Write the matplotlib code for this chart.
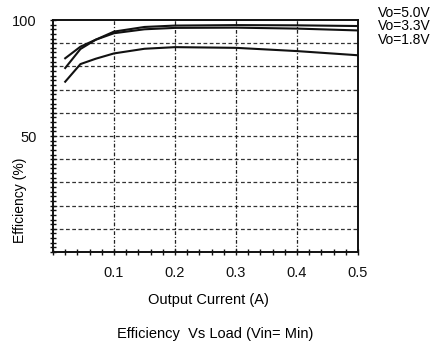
import matplotlib
matplotlib.use("Agg")
import matplotlib.pyplot as plt
from matplotlib.ticker import MultipleLocator

plt.rcParams['font.family'] = ['Liberation Sans', 'DejaVu Sans']

current = [0.02, 0.045, 0.07, 0.1, 0.15, 0.2, 0.3, 0.4, 0.5]
eff_5v0 = [79.3, 87.5, 91.5, 95.0, 97.0, 97.6, 97.8, 97.7, 97.4]
eff_3v3 = [83.5, 88.5, 91.5, 94.3, 96.0, 96.6, 96.7, 96.3, 95.5]
eff_1v8 = [73.4, 81.0, 83.3, 85.6, 87.6, 88.3, 88.0, 86.6, 84.8]
labels = ["Vo=5.0V", "Vo=3.3V", "Vo=1.8V"]
xticks = [0.1, 0.2, 0.3, 0.4, 0.5]
xticklabels = ["0.1", "0.2", "0.3", "0.4", "0.5"]
yticks = [50, 100]

fig = plt.figure(figsize=(4.42, 3.42), dpi=100)
ax = fig.add_axes([53/442, 1-252/342, (358-53)/442, (252-20)/342])
ax.set_xlim(0, 0.5)
ax.set_ylim(0, 100)

for y in range(10, 100, 10):
    ax.axhline(y, color='#333333', lw=0.9, ls=(0, (3, 2)), zorder=1)
for x in [0.1, 0.2, 0.3, 0.4]:
    ax.axvline(x, color='#222222', lw=0.9, ls=(0, (3, 1.5, 1, 1.5)), zorder=1)

for ys in [eff_5v0, eff_3v3, eff_1v8]:
    ax.plot(current, ys, color='#111111', lw=1.5, zorder=3)

ax.set_xticks(xticks)
ax.set_xticklabels(xticklabels, fontsize=10.5)
ax.set_yticks(yticks)
ax.set_yticklabels([str(v) for v in yticks], fontsize=10.5)
ax.xaxis.set_minor_locator(MultipleLocator(0.02))
ax.yaxis.set_minor_locator(MultipleLocator(2))
ax.tick_params(axis='both', which='both', direction='inout', length=4, width=1, colors='#111111')
ax.tick_params(axis='x', which='major', pad=8)
ax.tick_params(axis='y', which='major', pad=10)
ax.tick_params(top=False, right=False)
for s in ax.spines.values():
    s.set_linewidth(1.4)
    s.set_color('#111111')

fig.text(208/442, 1-300/342, "Output Current (A)", ha='center', va='center', fontsize=10.5)
fig.text(215/442, 1-334/342, "Efficiency  Vs Load (Vin= Min)", ha='center', va='center', fontsize=10.5)
fig.text(20/442, 1-200/342, "Efficiency (%)", ha='center', va='center', rotation=90, fontsize=10)

for i, lab in enumerate(labels):
    fig.text(378/442, 1-(13+13.5*i)/342, lab, ha='left', va='center', fontsize=10)

fig.savefig("out.png", dpi=100)
